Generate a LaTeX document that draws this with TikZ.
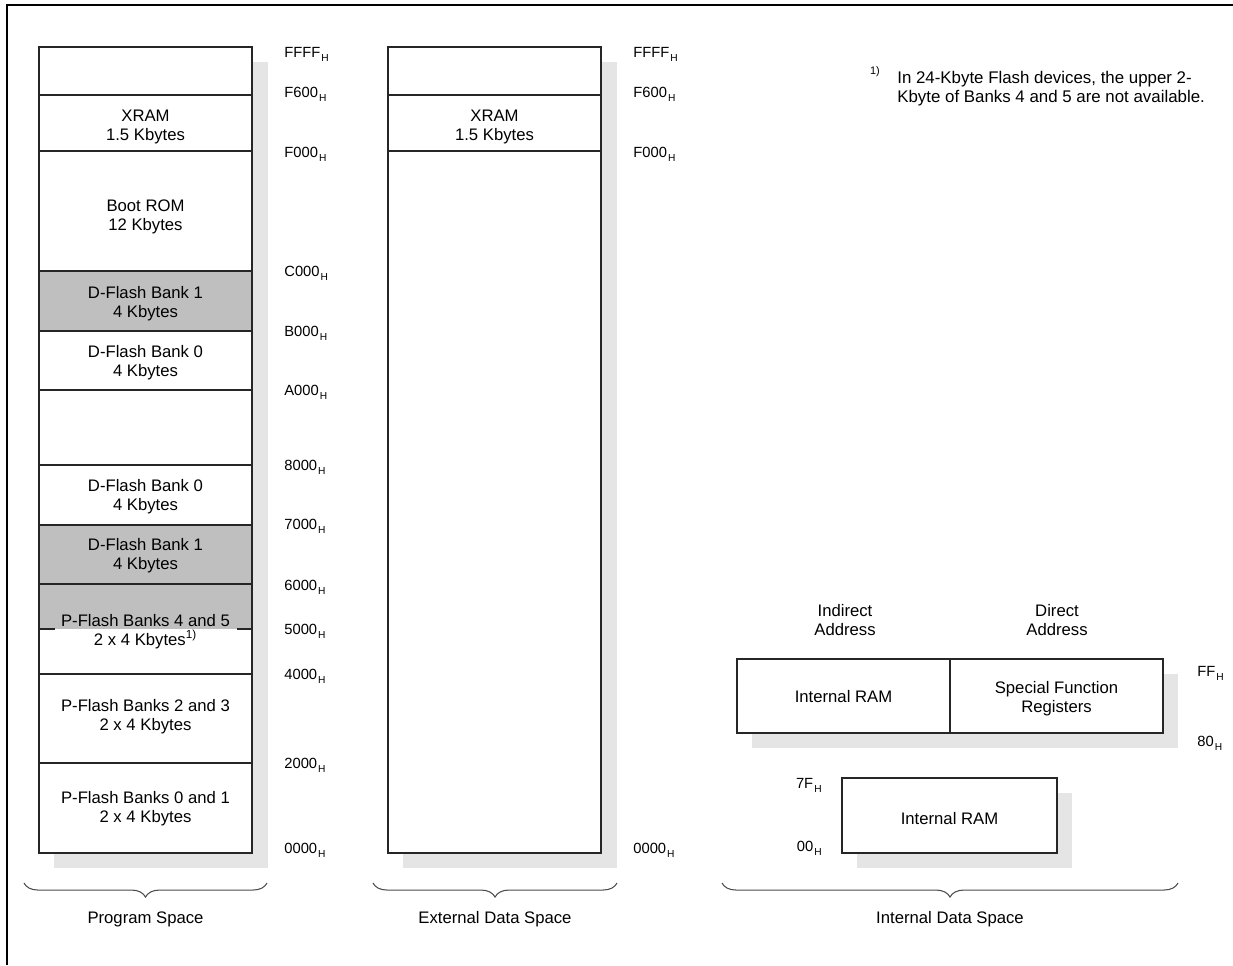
\documentclass[tikz,border=0pt]{standalone}
\usepackage{fontspec}
\setmainfont{Liberation Sans}
\usetikzlibrary{decorations.pathreplacing}

\definecolor{bankgray}{gray}{0.75}
\definecolor{shadowgray}{gray}{0.9}

\tikzset{
    seg/.style={draw=black!85, line width=0.6pt},
    shadowbox/.style={fill=shadowgray, draw=none},
    lbl/.style={align=center, inner sep=0pt, yshift=-1.5pt, font=\fontsize{9.5}{10.8}\selectfont},
    addr/.style={anchor=mid west, inner sep=0pt, font=\fontsize{8.4}{9.6}\selectfont},
    addrr/.style={anchor=mid east, inner sep=0pt, font=\fontsize{8.4}{9.6}\selectfont},
    spacebrace/.style={decorate, decoration={brace, mirror, amplitude=8pt}, draw=black!70, line width=0.6pt},
}
\newcommand{\hexaddr}[1]{#1\kern0.6pt\raisebox{-0.45ex}{\fontsize{5.8}{6}\selectfont H}}

\begin{document}
\begin{tikzpicture}[x=0.02cm, y=-0.02cm]
        \useasboundingbox (0,0) rectangle (1233,965);

        %Frame
        \draw[line width=1.1pt] (7,965) -- (7,5) -- (1233,5);

        %Program Space
        \begin{scope}[local bounding box=PROG]
            \fill[shadowbox] (54,62) rectangle (268,868);
            \fill[white] (39,47) rectangle (252,853);
            \fill[bankgray] (39,271) rectangle (252,331);
            \fill[bankgray] (39,525) rectangle (252,629);
            \foreach \y in {95,151,271,331,390,465,525,584,674,763}
                \draw[seg] (39,\y) -- (252,\y);
            \draw[seg] (39,629) -- (55,629);
            \draw[seg] (237,629) -- (252,629);
            \draw[seg] (39,47) rectangle (252,853);
            \node[lbl] (pxram) at (145.5,124.5) {XRAM\\1.5 Kbytes};
            \node[lbl] (pboot) at (145.5,214) {Boot ROM\\12 Kbytes};
            \node[lbl] (pdfb1) at (145.5,301) {D-Flash Bank 1\\4 Kbytes};
            \node[lbl] (pdfb0) at (145.5,360) {D-Flash Bank 0\\4 Kbytes};
            \node[lbl] (pdfb0b) at (145.5,494) {D-Flash Bank 0\\4 Kbytes};
            \node[lbl] (pdfb1b) at (145.5,553.5) {D-Flash Bank 1\\4 Kbytes};
            \node[lbl] (ppfb45) at (145.5,629) {P-Flash Banks 4 and 5\\2 x 4 Kbytes\textsuperscript{1)}};
            \node[lbl] (ppfb23) at (145.5,714.5) {P-Flash Banks 2 and 3\\2 x 4 Kbytes};
            \node[lbl] (ppfb01) at (145.5,806.5) {P-Flash Banks 0 and 1\\2 x 4 Kbytes};
            \foreach \a/\y in {FFFF/53,F600/93,F000/153,C000/272,B000/332,A000/391,8000/466,7000/525,6000/586,5000/630,4000/675,2000/764,0000/849}
                \node[addr] (pa\a) at (284,\y) {\hexaddr{\a}};
        \end{scope}

        %External Data Space
        \begin{scope}[local bounding box=EXT]
            \fill[shadowbox] (403,62) rectangle (617,868);
            \fill[white] (388,47) rectangle (601,853);
            \foreach \y in {95,151}
                \draw[seg] (388,\y) -- (601,\y);
            \draw[seg] (388,47) rectangle (601,853);
            \node[lbl] (exram) at (494.5,124.5) {XRAM\\1.5 Kbytes};
            \foreach \a/\y in {FFFF/53,F600/93,F000/153,0000/849}
                \node[addr] (ea\a) at (633,\y) {\hexaddr{\a}};
        \end{scope}

        %Internal Data Space
        \begin{scope}[local bounding box=INT]
            \node[lbl] (indir) at (845,617.5) {Indirect\\Address};
            \node[lbl] (direct) at (1057,617.5) {Direct\\Address};
            \fill[shadowbox] (752,674) rectangle (1178,748);
            \fill[white] (737,659) rectangle (1163,733);
            \draw[seg] (737,659) rectangle (1163,733);
            \draw[seg] (950,659) -- (950,733);
            \node[lbl] (iramhi) at (843.5,694) {Internal RAM};
            \node[lbl] (sfr) at (1056.5,696) {Special Function\\Registers};
            \node[addr] (iaFF) at (1197,672) {\hexaddr{FF}};
            \node[addr] (ia80) at (1197,742) {\hexaddr{80}};
            \fill[shadowbox] (857,793) rectangle (1072,868);
            \fill[white] (842,778) rectangle (1057,853);
            \draw[seg] (842,778) rectangle (1057,853);
            \node[lbl] (iramlo) at (949.5,816) {Internal RAM};
            \node[addrr] (ia7F) at (822,784) {\hexaddr{7F}};
            \node[addrr] (ia00) at (822,847) {\hexaddr{00}};
        \end{scope}

        %Footnote
        \node[inner sep=0pt, font=\fontsize{6.2}{7}\selectfont] (fnmark) at (875,72) {1)};
        \node[lbl, align=left, anchor=north west, font=\fontsize{9.6}{10.8}\selectfont] (fntext) at (897,68) {In 24-Kbyte Flash devices, the upper 2-\\Kbyte of Banks 4 and 5 are not available.};

        %Braces
        \coordinate (pbl) at (24,883);
        \coordinate (pbr) at (267,883);
        \coordinate (ebl) at (373,883);
        \coordinate (ebr) at (617,883);
        \coordinate (ibl) at (722,883);
        \coordinate (ibr) at (1178,883);
        \draw[spacebrace] (pbl) -- (pbr);
        \draw[spacebrace] (ebl) -- (ebr);
        \draw[spacebrace] (ibl) -- (ibr);
        \node[lbl] (progsp) at (145.5,917) {Program Space};
        \node[lbl] (extsp) at (495,917) {External Data Space};
        \node[lbl] (intsp) at (950,917) {Internal Data Space};
    \end{tikzpicture}
\end{document}
